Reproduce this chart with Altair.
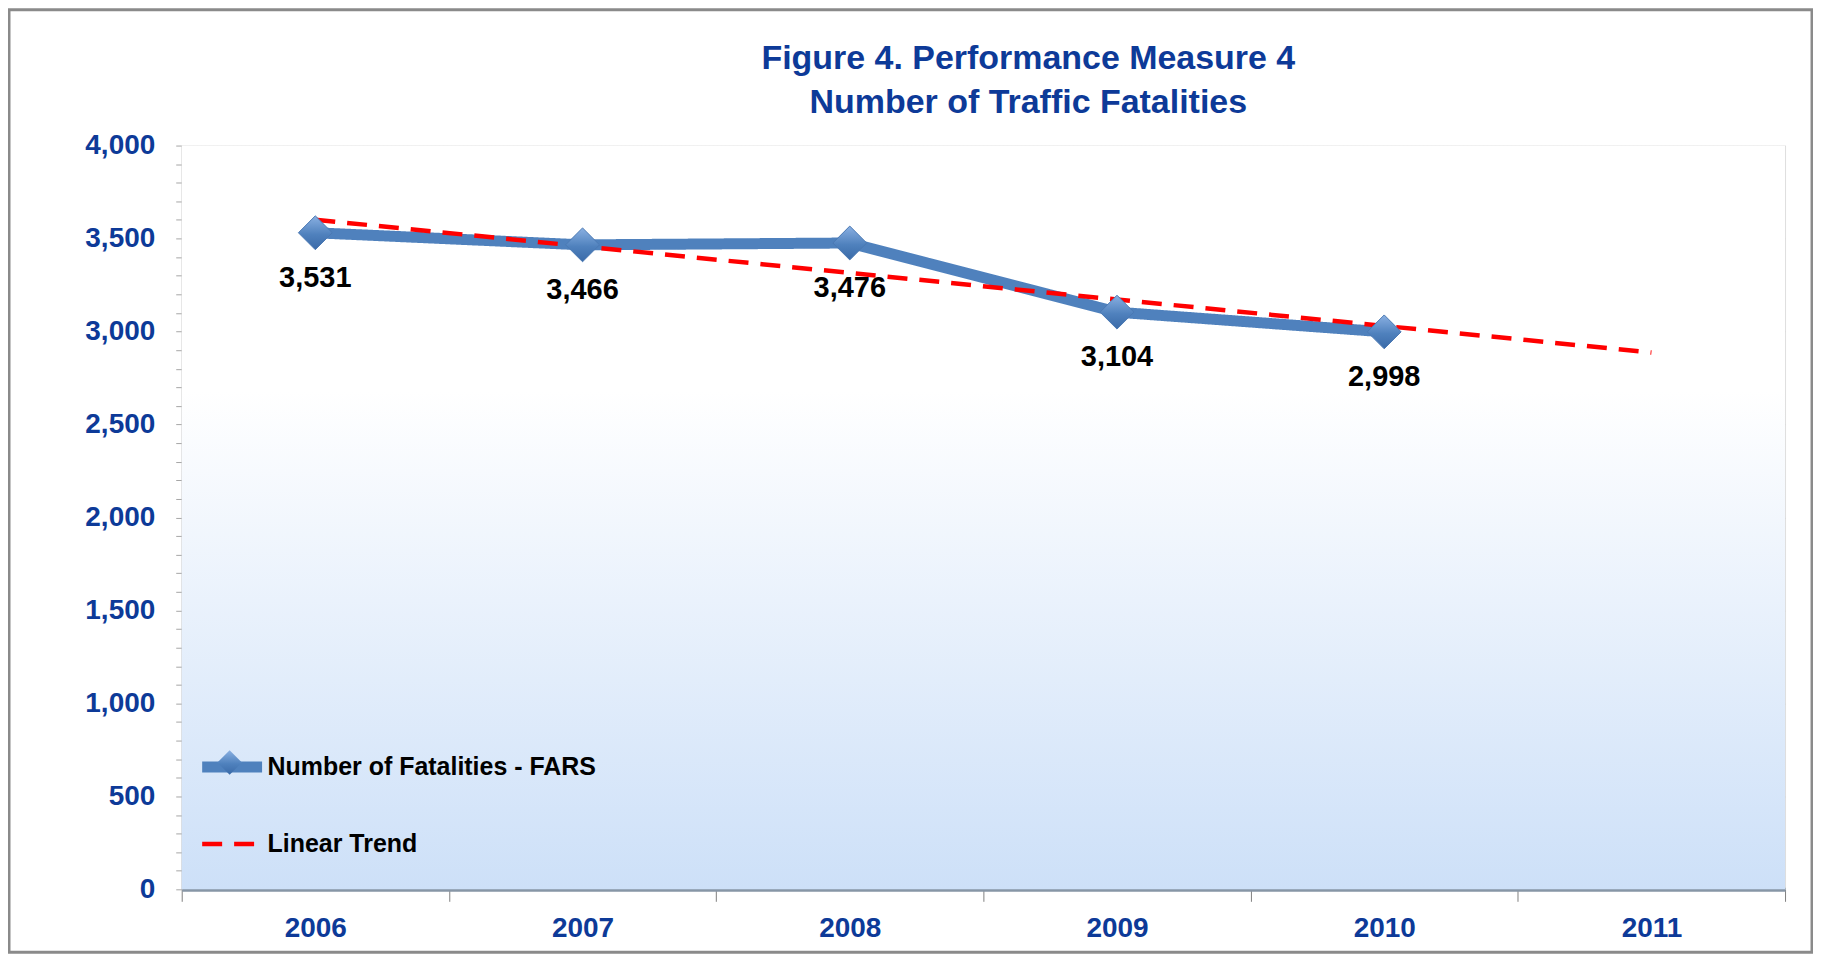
import altair as alt
import pandas as pd

years = ["2006", "2007", "2008", "2009", "2010", "2011"]
fatalities = [3531, 3466, 3476, 3104, 2998]
trend = [3601, 3458, 3315, 3172, 3030, 2887]

S_FARS = "Number of Fatalities - FARS"
S_TREND = "Linear Trend"

rows = [{"year": y, "value": v, "series": S_FARS, "marker": S_FARS} for y, v in zip(years, fatalities)]
rows += [{"year": y, "value": v, "series": S_TREND, "marker": S_TREND} for y, v in zip(years, trend)]
df = pd.DataFrame(rows)
df_fars = df[df["series"] == S_FARS]

W, H = 1606, 745
BLUE_TXT = "#0d3a98"
SANS = "Liberation Sans, Arial"

x_enc = alt.X(
    "year:O",
    scale=alt.Scale(type="band", domain=years, paddingInner=0, paddingOuter=0),
    bandPosition=0.5,
    axis=alt.Axis(
        title=None,
        tickBand="extent",
        tickSize=12,
        tickColor="#7f7f7f",
        domainColor="#8796a6",
        domainWidth=4,
        labelFont=SANS,
        labelFontSize=28,
        labelFontWeight="bold",
        labelColor=BLUE_TXT,
        labelPadding=13,
        labelAngle=0,
        grid=False,
    ),
)

y_enc = alt.Y(
    "value:Q",
    scale=alt.Scale(domain=[0, 4000], nice=False),
    axis=alt.Axis(
        title=None,
        values=list(range(0, 4001, 100)),
        labelExpr="datum.value % 500 === 0 ? format(datum.value, ',') : ''",
        gridOpacity={"condition": {"test": "datum.value % 500 === 0", "value": 1}, "value": 0},
        gridColor="#d4d4d4",
        tickSize=6,
        tickColor="#a6a6a6",
        domainColor="#a6a6a6",
        labelFont=SANS,
        labelFontSize=28,
        labelFontWeight="bold",
        labelColor=BLUE_TXT,
        labelPadding=21,
    ),
)

legend_kw = dict(
    orient="none",
    legendX=15,
    legendY=587,
    title=None,
    symbolType="stroke",
    symbolSize=3600,
    labelFont=SANS,
    labelFontSize=25,
    labelFontWeight="bold",
    labelColor="#000000",
    labelOffset=0,
    labelLimit=600,
    rowPadding=22,
    padding=0,
)
domain = [S_FARS, S_TREND]

frame = alt.Chart(alt.Data(values=[{}])).mark_rect(
    fillOpacity=0, stroke="#8a8a8a", strokeWidth=3
).encode(
    x=alt.value(-173), x2=alt.value(W + 27), y=alt.value(-136), y2=alt.value(H + 63)
)

bg = alt.Chart(alt.Data(values=[{}])).mark_rect(
    color=alt.Gradient(
        gradient="linear",
        stops=[
            alt.GradientStop(color="#ffffff", offset=0),
            alt.GradientStop(color="#ffffff", offset=0.33),
            alt.GradientStop(color="#cde0f8", offset=1),
        ],
        x1=0, x2=0, y1=0, y2=1,
    )
).encode(x=alt.value(0), x2=alt.value("width"), y=alt.value(0), y2=alt.value("height"))

lines = alt.Chart(df).mark_line(strokeCap="butt", strokeJoin="round").encode(
    x=x_enc,
    y=y_enc,
    color=alt.Color("series:N", scale=alt.Scale(domain=domain, range=["#4f81bd", "#ff0000"]),
                    legend=alt.Legend(**legend_kw)),
    strokeDash=alt.StrokeDash("series:N", scale=alt.Scale(domain=domain, range=[[1, 0], [20, 12]]),
                              legend=alt.Legend(**legend_kw)),
    strokeWidth=alt.StrokeWidth("series:N", scale=alt.Scale(domain=domain, range=[11, 4.5]),
                                legend=alt.Legend(**legend_kw)),
    order=alt.Order("year:O"),
)

diamond_fill = alt.Gradient(
    gradient="linear",
    stops=[
        alt.GradientStop(color="#8ab0e2", offset=0),
        alt.GradientStop(color="#4f81bd", offset=0.55),
        alt.GradientStop(color="#3a6aa8", offset=1),
    ],
    x1=0, x2=0, y1=0, y2=1,
)

points = alt.Chart(df_fars).mark_point(
    shape="diamond",
    size=1150,
    filled=True,
    opacity=1,
    fill=diamond_fill,
    stroke="#4a78b3",
    strokeWidth=1,
).encode(
    x=x_enc,
    y=y_enc,
    shape=alt.Shape(
        "marker:N",
        scale=alt.Scale(domain=[S_FARS], range=["diamond"]),
        legend=alt.Legend(
            orient="none",
            legendX=35,
            legendY=605,
            title=None,
            symbolSize=600,
            symbolFillColor="#4f81bd",
            symbolStrokeColor="#3d6dab",
            symbolStrokeWidth=1,
            labelExpr="''",
            padding=0,
        ),
    ),
)

labels = alt.Chart(df_fars).mark_text(
    dy=45, font=SANS, fontSize=29, fontWeight="bold", color="#000000"
).encode(x=x_enc, y=y_enc, text=alt.Text("value:Q", format=","))

chart = alt.layer(frame, bg, lines, points, labels).properties(
    width=W,
    height=H,
    autosize=alt.AutoSizeParams(type="none"),
    padding={"left": 174, "top": 137, "right": 28, "bottom": 65},
    title=alt.Title(
        ["Figure 4. Performance Measure 4", "Number of Traffic Fatalities"],
        font=SANS,
        fontSize=34,
        fontWeight="bold",
        color=BLUE_TXT,
        lineHeight=44,
        anchor="middle",
        frame="group",
        dx=45,
        dy=124,
        offset=12,
    ),
).configure_view(stroke="#a8a8a8", strokeWidth=1).configure(background="#ffffff")

chart.save("out.html", embed_options={"renderer": "svg", "actions": False})
